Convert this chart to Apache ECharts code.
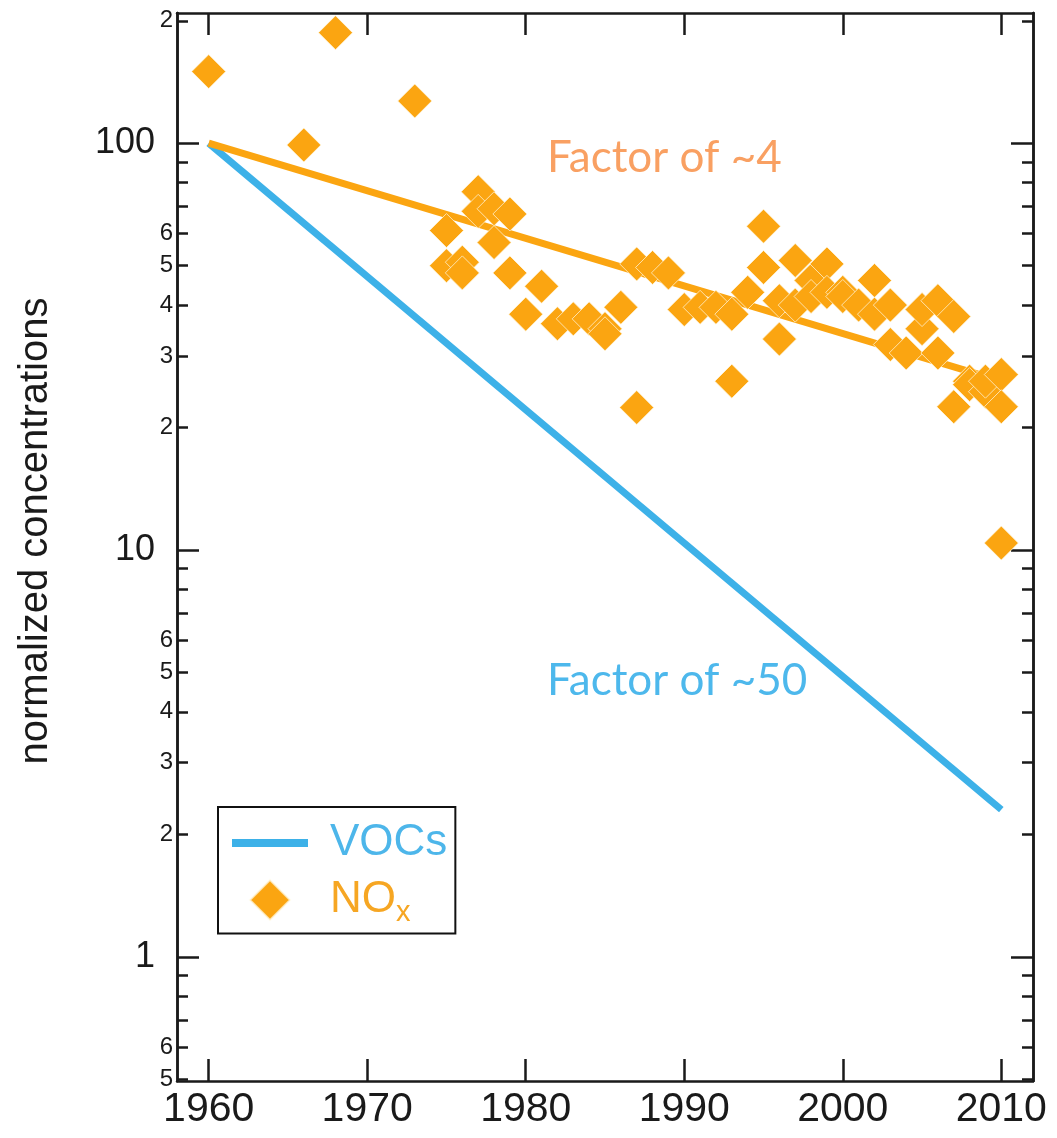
<!DOCTYPE html>
<html><head><meta charset="utf-8">
<script src="https://cdn.jsdelivr.net/npm/echarts@6/dist/echarts.min.js"></script>
<style>html,body{margin:0;padding:0;background:#fff}#c{width:1057px;height:1138px}</style>
</head><body><div id="c"></div>
<script>
// ---- data ----
const noxYears = [1960,1966,1968,1973,1975,1975,1976,1976,1977,1977,1978,1978,1979,1979,1980,1981,1982,1983,1984,1985,1985,1986,1987,1987,1988,1989,1990,1991,1992,1993,1993,1994,1995,1995,1996,1996,1997,1997,1998,1998,1999,1999,2000,2000,2001,2002,2002,2003,2003,2004,2005,2005,2006,2006,2007,2007,2008,2008,2009,2009,2010,2010,2010];
const noxValues = [150,99,187,127,61,50,51,48,76,68,69,57,67,48,38,44.5,36,37,37,35,34,39.5,50.5,22.4,49.5,48,39,39.5,39.5,38,26,43,62.5,49.5,41,33,51.5,40,46,42,50.5,43,43,42,40,46,38,40,32,30.5,35,39,41,30.5,37.5,22.5,26,25.5,24.5,26,27,22.5,10.4];
const vocYears = [1960, 2010];
const vocValues = [100, 2.3];
const noxTrendYears = [1960, 2010];
const noxTrendValues = [100, 26];
const xTicks = [1960,1970,1980,1990,2000,2010];
const yMajorTicks = [1,10,100];
const yMinorTicks = [0.5,0.6,0.7,0.8,0.9,2,3,4,5,6,7,8,9,20,30,40,50,60,70,80,90,200];
const yMinorLabels = [0.5,0.6,2,3,4,5,6,20,30,40,50,60,200];

const FONT = '"Liberation Sans", Arial, Helvetica, sans-serif';
const AX = '#1a1a1a';
const BLUE = '#3DB1E8';
const ORANGE = '#FBA511';

const chart = echarts.init(document.getElementById('c'));
const zip = (a, b) => a.map((v, i) => [v, b[i]]);
const leadDigit = v => String(Math.round(v / Math.pow(10, Math.floor(Math.log10(v) + 1e-9))));

const lineStyle = {color: AX, width: 2.5};
function yAx(pos, ticks, len, labels, fs, margin, extra) {
  return Object.assign({
    type: 'log', logBase: 10, min: 0.495, max: 209, position: pos,
    axisLine: {show: true, onZero: false, lineStyle},
    axisTick: {show: true, inside: true, length: len, customValues: ticks, lineStyle},
    axisLabel: labels ? {show: true, customValues: labels, fontSize: fs, fontFamily: FONT, color: AX, margin: margin,
      formatter: v => fs > 30 ? String(Math.round(v)) : leadDigit(v)} : {show: false},
    splitLine: {show: false}, minorTick: {show: false}
  }, extra || {});
}
function xAx(pos, labels) {
  return {
    type: 'value', min: 1958, max: 2012, position: pos,
    axisLine: {show: true, onZero: false, lineStyle},
    axisTick: {show: true, inside: true, length: 22, customValues: xTicks, lineStyle},
    axisLabel: labels ? {show: true, customValues: xTicks, fontSize: 41, fontFamily: FONT, color: AX, margin: 8,
      formatter: v => String(Math.round(v))} : {show: false},
    splitLine: {show: false}
  };
}

chart.setOption({
  animation: false,
  backgroundColor: '#fff',
  grid: {left: 177, right: 24, top: 13, bottom: 57},
  xAxis: [xAx('bottom', true), xAx('top', false)],
  yAxis: [
    yAx('left', yMajorTicks, 22, yMajorTicks, 36, 22, {
      name: 'normalized concentrations', nameLocation: 'middle', nameRotate: 90, nameGap: 121,
      nameTextStyle: {fontSize: 40, fontFamily: FONT, color: AX, padding: [0, 0, 0, 32]}
    }),
    yAx('left', yMinorTicks, 11, yMinorLabels, 24, 4),
    yAx('right', yMajorTicks, 22, null),
    yAx('right', yMinorTicks, 11, null)
  ],
  legend: {
    orient: 'vertical', left: 218, top: 807,
    padding: [14, 8, 6, 14], itemWidth: 76, itemHeight: 40, itemGap: 13,
    borderColor: '#111', borderWidth: 2, borderRadius: 0, backgroundColor: '#fff',
    data: [
      {name: 'VOCs', icon: 'path://M0 0H76V8H0Z'},
      {name: 'NOx', icon: 'path://M20 0L40 20L20 40L0 20Z'}
    ],
    formatter: n => n === 'VOCs' ? '{g|}{v|VOCs}' : '{g|}{n|NO}{s|x}',
    textStyle: {
      rich: {
        g: {width: 17},
        v: {fontSize: 44, fontFamily: FONT, color: '#4DB6EA'},
        n: {fontSize: 44, fontFamily: FONT, color: '#F6A623'},
        s: {fontSize: 29, fontFamily: FONT, color: '#F6A623', padding: [26, 0, 0, 0]}
      }
    }
  },
  series: [
    {name: 'VOCs', type: 'line', data: zip(vocYears, vocValues), showSymbol: false, symbol: 'none',
     lineStyle: {color: BLUE, width: 7}, itemStyle: {color: BLUE}, z: 2},
    {name: 'NOx trend', type: 'line', data: zip(noxTrendYears, noxTrendValues), showSymbol: false, symbol: 'none',
     lineStyle: {color: ORANGE, width: 7}, itemStyle: {color: ORANGE}, z: 2},
    {name: 'NOx', type: 'scatter', data: zip(noxYears, noxValues), symbol: 'diamond', symbolSize: 34,
     itemStyle: {color: ORANGE, opacity: 1, borderColor: 'rgba(255,250,230,0.7)', borderWidth: 1}, z: 3}
  ],
  graphic: [
    {type: 'text', left: 547, top: 136, z: 10,
     style: {text: 'Factor of ~4', fill: '#F9A062', font: '44px Lato, "Open Sans", sans-serif'}},
    {type: 'text', left: 547, top: 659, z: 10,
     style: {text: 'Factor of ~50', fill: '#4DB8EC', font: '44px Lato, "Open Sans", sans-serif'}}
  ]
});
</script></body></html>
